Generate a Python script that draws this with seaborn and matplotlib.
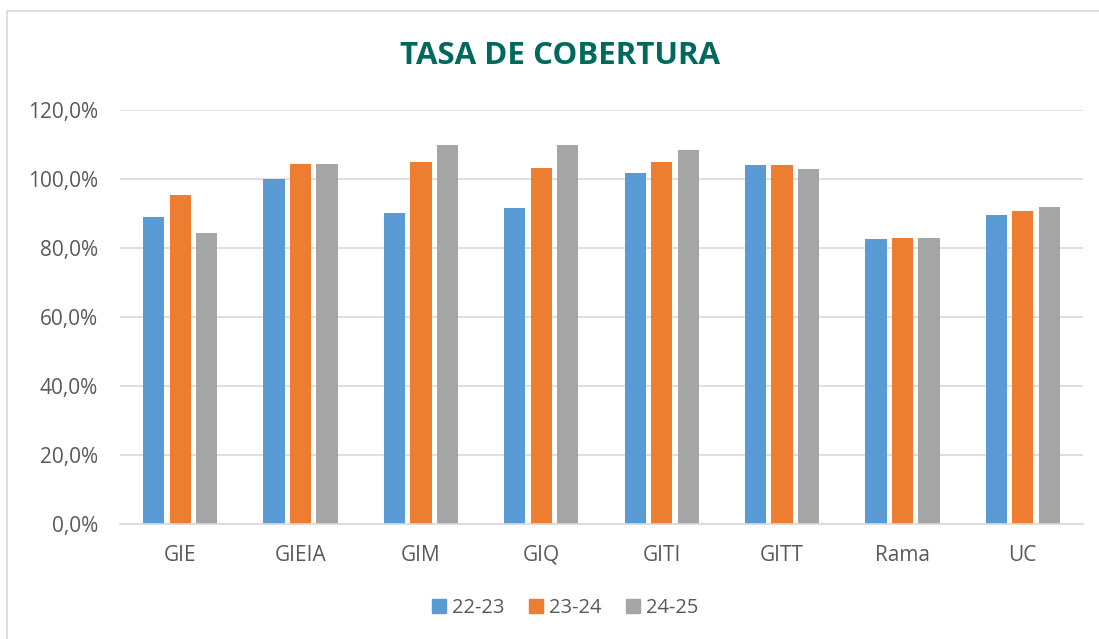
import matplotlib
matplotlib.use("Agg")
import matplotlib.pyplot as plt
import matplotlib.patches as mpatches
from matplotlib.ticker import FuncFormatter
import seaborn as sns
import pandas as pd

categories = ["GIE", "GIEIA", "GIM", "GIQ", "GITI", "GITT", "Rama", "UC"]
series_names = ["22-23", "23-24", "24-25"]
v_22_23 = [88.9, 100.0, 90.1, 91.6, 101.7, 104.2, 82.7, 89.7]
v_23_24 = [95.5, 104.4, 105.0, 103.3, 105.0, 104.2, 82.8, 90.6]
v_24_25 = [84.4, 104.4, 109.9, 109.9, 108.4, 102.9, 82.8, 91.9]
colors = ["#5B9BD5", "#ED7D31", "#A5A5A5"]

rows = []
for s, vals in zip(series_names, [v_22_23, v_23_24, v_24_25]):
    for c, v in zip(categories, vals):
        rows.append({"cat": c, "serie": s, "val": v})
df = pd.DataFrame(rows)

sns.set_theme(style="white")
plt.rcParams["font.family"] = ["Open Sans", "DejaVu Sans"]

fig = plt.figure(figsize=(10.99, 6.39), dpi=100)
ax = fig.add_axes([120/1099, 1-524/639, (1083-120)/1099, (524-110)/639])

sns.barplot(data=df, x="cat", y="val", hue="serie", palette=colors,
            width=0.66, gap=0.2, ax=ax, legend=False, saturation=1,
            edgecolor="none")

ax.set_ylim(0, 120)
ax.set_xlim(-0.5, len(categories) - 0.5)
ax.set_yticks([0, 20, 40, 60, 80, 100, 120])
ax.yaxis.set_major_formatter(FuncFormatter(lambda v, p: f"{v:.1f}%".replace(".", ",")))
ax.grid(axis="y", color="#D9D9D9", linewidth=1.2)
ax.set_axisbelow(True)
for sp in ["left", "right", "top"]:
    ax.spines[sp].set_visible(False)
ax.spines["bottom"].set_color("#D9D9D9")
ax.spines["bottom"].set_linewidth(1.2)
ax.set_xlabel("")
ax.set_ylabel("")
ax.tick_params(axis="y", labelsize=15, labelcolor="#595959", length=0, pad=16)
ax.tick_params(axis="x", labelsize=15, labelcolor="#595959", length=0, pad=15)

fig.text(560/1099, 1-56/639, "TASA DE COBERTURA", ha="center", va="center",
         fontsize=22.5, fontweight="bold", color="#00695E")

handles = [mpatches.Patch(color=c, label=s) for c, s in zip(colors, series_names)]
fig.legend(handles=handles, loc="center", bbox_to_anchor=(565/1099, 1-608/639),
           ncol=3, frameon=False, fontsize=14.5, handlelength=0.7, handleheight=0.7,
           handletextpad=0.3, columnspacing=1.2, labelcolor="#595959")

border = mpatches.Rectangle((7/1099, -0.01), 1.0, 1-11/639+0.01, transform=fig.transFigure,
                            fill=False, edgecolor="#D9D9D9", linewidth=1.2)
fig.patches.append(border)

fig.savefig("out.png", dpi=100)
